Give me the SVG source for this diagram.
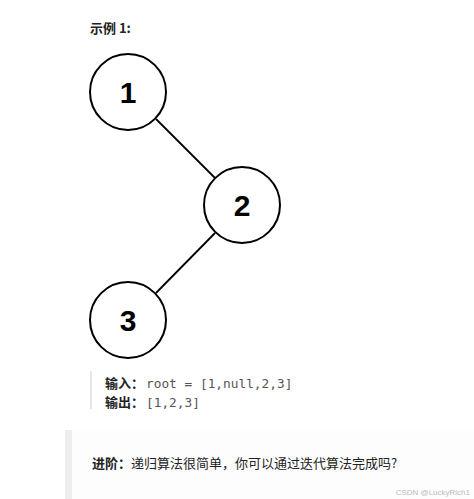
<svg xmlns="http://www.w3.org/2000/svg" width="474" height="499" viewBox="0 0 474 499">
<style>
.node circle{fill:#fff;stroke:#000;stroke-width:2}
.node text{font-family:"Liberation Sans",Arial,sans-serif;font-weight:bold;font-size:30px;text-anchor:middle;fill:#000}
.edge{stroke:#000;stroke-width:1.8}
.cn{font-family:"Noto Sans CJK SC","Liberation Sans",sans-serif;font-size:13px;fill:#222}
.b{font-weight:bold}
.mono{font-family:"DejaVu Sans Mono","Liberation Mono",monospace;font-size:12.8px;fill:#555}
</style>
<rect width="474" height="499" fill="#fff"/>
<text class="cn b" x="90" y="33" font-size="14">示例 1:</text>
<g id="connectors">
<line class="edge" x1="156" y1="119" x2="215" y2="178"/>
<line class="edge" x1="215" y1="233" x2="156" y2="293"/>
</g>
<g id="node1" class="node"><circle cx="128" cy="92" r="38"/><text x="128" y="103">1</text></g>
<g id="node2" class="node"><circle cx="242" cy="205" r="38"/><text x="242" y="216">2</text></g>
<g id="node3" class="node"><circle cx="128" cy="320" r="38"/><text x="128" y="331">3</text></g>
<rect x="90" y="371" width="2" height="38" fill="#e6e6e6"/>
<text class="cn b" x="105" y="388">输入：</text>
<text class="mono" x="146" y="388">root = [1,null,2,3]</text>
<text class="cn b" x="105" y="407">输出：</text>
<text class="mono" x="146" y="407">[1,2,3]</text>
<rect x="72" y="430" width="402" height="69" fill="#fdfdfd"/>
<rect x="65" y="430" width="7" height="69" fill="#eeeeee"/>
<text class="cn" x="92" y="468" font-size="13.3"><tspan class="b">进阶：</tspan>递归算法很简单，你可以通过迭代算法完成吗?</text>
<text x="470" y="495" text-anchor="end" font-family="Liberation Sans,Arial,sans-serif" font-size="8" fill="#bbb">CSDN @LuckyRich1</text>
</svg>
